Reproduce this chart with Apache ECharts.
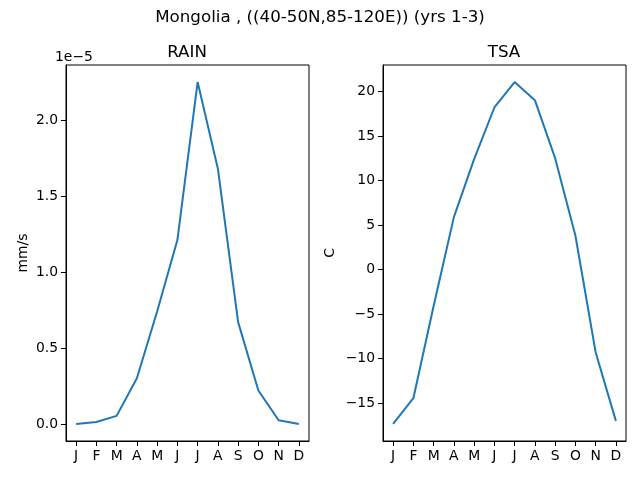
<!DOCTYPE html>
<html>
<head>
<meta charset="utf-8">
<script src="https://cdn.jsdelivr.net/npm/echarts@6/dist/echarts.min.js"></script>
<style>
  html, body { margin: 0; padding: 0; background: #fff; }
  #main { width: 640px; height: 480px; }
</style>
</head>
<body>
<div id="main"></div>
<script>
// monthly means, yrs 1-3
var months = ['J', 'F', 'M', 'A', 'M', 'J', 'J', 'A', 'S', 'O', 'N', 'D'];
var rain = [0.0e-5, 0.013e-5, 0.053e-5, 0.30e-5, 0.74e-5, 1.21e-5, 2.25e-5, 1.68e-5, 0.67e-5, 0.22e-5, 0.024e-5, 0.0e-5];
var tsa = [-17.33, -14.45, -4.1, 5.88, 12.39, 18.19, 21.04, 19.01, 12.5, 3.82, -9.28, -16.99];

var font = 'DejaVu Sans';
var fs = 13.9;

function xAxisOpt(gridIndex) {
    return {
        type: 'category',
        gridIndex: gridIndex,
        data: months,
        boundaryGap: true,
        axisLine: {show: true, onZero: false, lineStyle: {color: '#000', width: 1}},
        axisTick: {show: true, alignWithLabel: true, interval: 0, length: 5, lineStyle: {color: '#000', width: 1}},
        axisLabel: {color: '#000', fontFamily: font, fontSize: fs, margin: 8, interval: 0},
        splitLine: {show: false}
    };
}

function yAxisOpt(gridIndex, name, min, max, splitNumber, gap, fmt) {
    return {
        type: 'value',
        gridIndex: gridIndex,
        name: name,
        nameLocation: 'middle',
        nameRotate: 90,
        nameGap: gap,
        nameTextStyle: {color: '#000', fontFamily: font, fontSize: fs},
        min: min,
        max: max,
        splitNumber: splitNumber,
        axisLine: {show: true, onZero: false, lineStyle: {color: '#000', width: 1}},
        axisTick: {show: true, length: 5, lineStyle: {color: '#000', width: 1}},
        axisLabel: {color: '#000', fontFamily: font, fontSize: fs, margin: 8,
            showMinLabel: false, showMaxLabel: false, formatter: fmt},
        splitLine: {show: false}
    };
}

var myChart = echarts.init(document.getElementById('main'), null, {renderer: 'canvas'});
myChart.setOption({
    animation: false,
    backgroundColor: '#fff',
    title: [
        {text: 'Mongolia , ((40-50N,85-120E)) (yrs 1-3)', left: 'center', top: 9, padding: 0,
            textStyle: {fontFamily: font, fontSize: 16.7, fontWeight: 'normal', color: '#000'}},
        {text: 'RAIN', left: 187, top: 44, padding: 0, textAlign: 'center',
            textStyle: {fontFamily: font, fontSize: 16.7, fontWeight: 'normal', color: '#000'}},
        {text: 'TSA', left: 504, top: 44, padding: 0, textAlign: 'center',
            textStyle: {fontFamily: font, fontSize: 16.7, fontWeight: 'normal', color: '#000'}}
    ],
    graphic: [
        {type: 'text', left: 55, top: 50,
            style: {text: '1e\u22125', fontFamily: font, fontSize: fs, fill: '#000'}}
    ],
    grid: [
        {left: 66, top: 65, width: 243, height: 376, show: true, borderColor: '#000', borderWidth: 1},
        {left: 383, top: 65, width: 243, height: 376, show: true, borderColor: '#000', borderWidth: 1}
    ],
    xAxis: [xAxisOpt(0), xAxisOpt(1)],
    yAxis: [
        yAxisOpt(0, 'mm/s', -0.1125e-5, 2.3625e-5, 5, 36, function (v) { return (v * 1e5).toFixed(1); }),
        yAxisOpt(1, 'C', -19.25, 22.96, 8, 46, function (v) {
            var n = Math.round(v);
            return n < 0 ? '\u2212' + Math.abs(n) : String(n);
        })
    ],
    series: [
        {name: 'RAIN', type: 'line', xAxisIndex: 0, yAxisIndex: 0, data: rain, showSymbol: false,
            lineStyle: {color: '#1f77b4', width: 2}},
        {name: 'TSA', type: 'line', xAxisIndex: 1, yAxisIndex: 1, data: tsa, showSymbol: false,
            lineStyle: {color: '#1f77b4', width: 2}}
    ]
});
</script>
</body>
</html>
